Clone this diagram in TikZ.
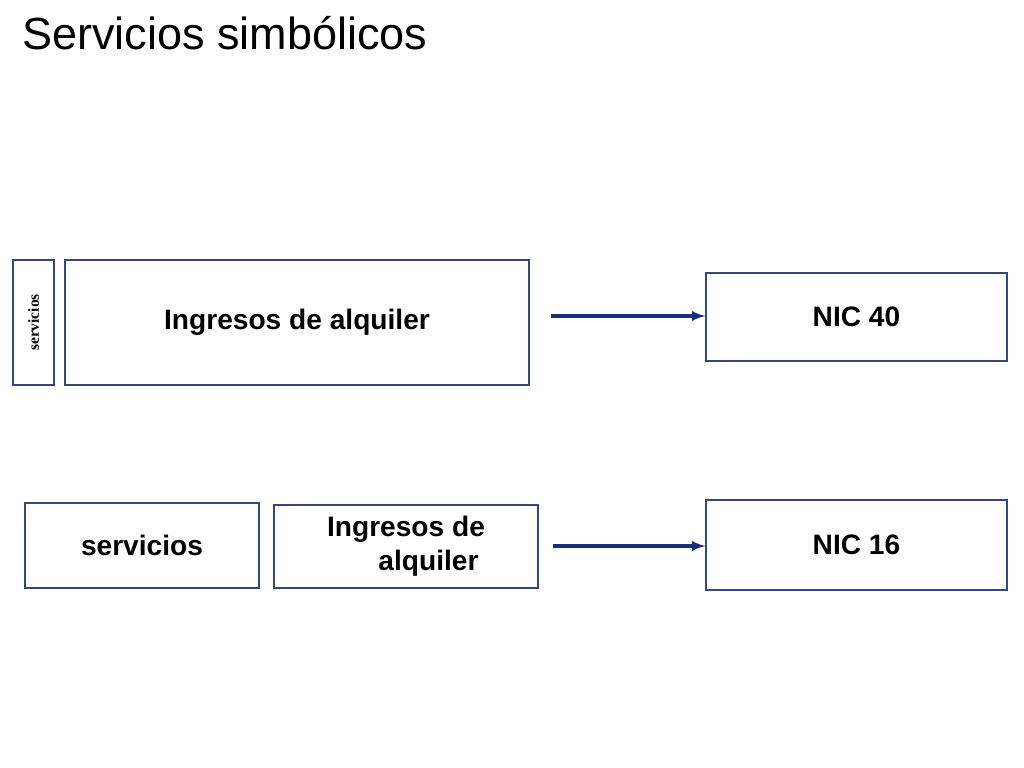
\documentclass[tikz,border=0pt]{standalone}
\usepackage{fontspec}
\setmainfont{Liberation Sans}
\newfontfamily\serifside{Liberation Serif}
\usetikzlibrary{positioning}
\definecolor{boxline}{RGB}{55,70,130}
\definecolor{arrowblue}{RGB}{25,45,125}
\tikzset{
  box/.style={draw=boxline,line width=0.9pt,inner sep=0pt,align=center,font=\fontsize{20}{24}\selectfont\bfseries},
  link/.style={draw=arrowblue,line width=2.2pt,-latex}
}
\begin{document}
\begin{tikzpicture}[x=0.025cm,y=-0.025cm]
        \useasboundingbox (0,0) rectangle (1024,768);
        \node[anchor=base west,inner sep=0pt,font=\fontsize{32}{38}\selectfont] (title) at (22,50) {Servicios simbólicos};
        \node[box,minimum width=1.025cm,minimum height=3.125cm] (srv1) at (33.5,322.5) {};
        \node[rotate=90,font=\fontsize{11}{12}\selectfont\bfseries\serifside] (srv1txt) at (srv1.center) {servicios};
        \node[box,minimum width=11.6cm,minimum height=3.125cm] (ing1) at (297,322.5) {Ingresos de alquiler};
        \node[box,minimum width=7.525cm,minimum height=2.2cm] (nic40) at (856.5,317) {NIC 40};
        \node[box,minimum width=5.85cm,minimum height=2.125cm] (srv2) at (142,545.5) {servicios};
        \node[box,minimum width=6.6cm,minimum height=2.075cm] (ing2) at (406,546.5) {Ingresos de\\\hspace*{1.6em}alquiler};
        \node[box,minimum width=7.525cm,minimum height=2.25cm] (nic16) at (856.5,545) {NIC 16};
        \coordinate (a1) at (551,316);
        \coordinate (a2) at (553,546);
        \draw[link] (a1) -- (a1 -| nic40.west);
        \draw[link] (a2) -- (a2 -| nic16.west);
\end{tikzpicture}
\end{document}
